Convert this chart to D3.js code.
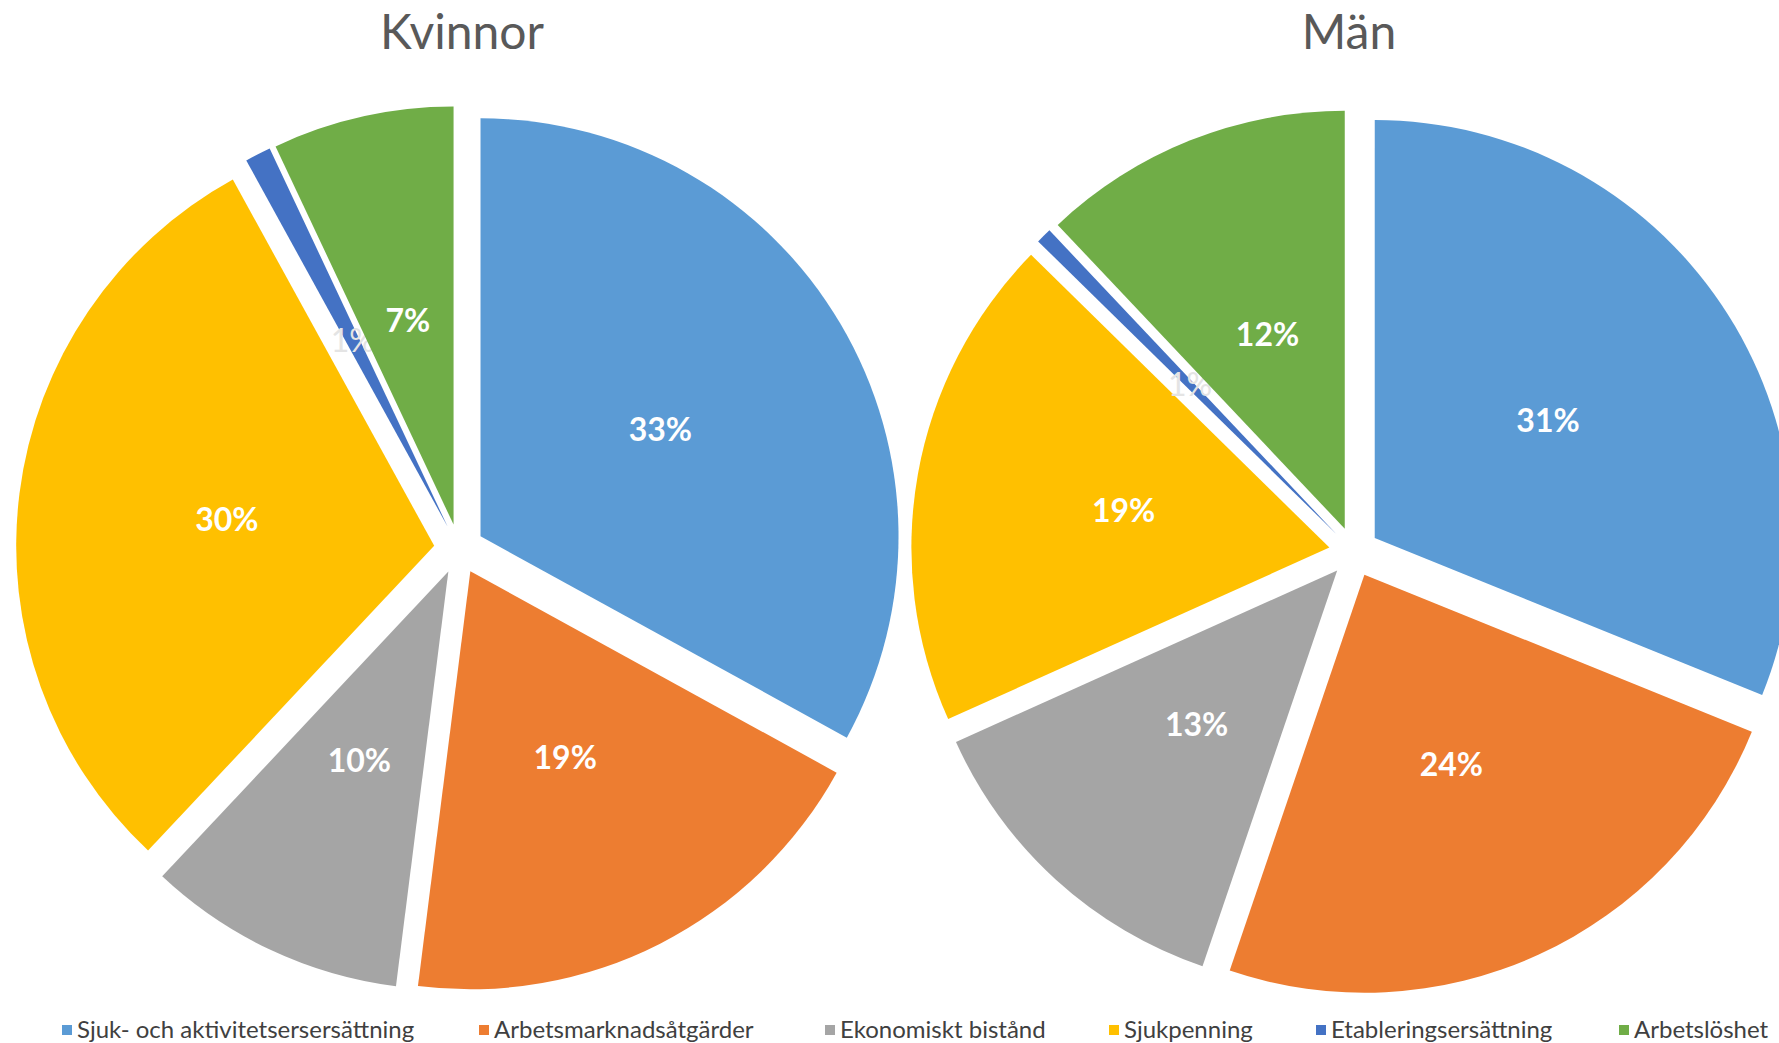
<!DOCTYPE html>
<meta charset="utf-8">
<style>
    body { margin: 0; background: #fff; }
    svg { display: block; font-family: Lato, "Open Sans", sans-serif; }
</style>
<body>
<script src="https://d3js.org/d3.v7.min.js"></script>
<script>

// Categories and values (percent)
var categories = ['Sjuk- och aktivitetsersersättning', 'Arbetsmarknadsåtgärder', 'Ekonomiskt bistånd',
    'Sjukpenning', 'Etableringsersättning', 'Arbetslöshet'];
var colors = ['#5b9bd5', '#ed7d31', '#a5a5a5', '#ffc000', '#4472c4', '#70ad47'];
var kvinnor = [33, 19, 10, 30, 1, 7];
var man = [31, 24, 13, 19, 0.6, 12];
var titles = ['Kvinnor', 'Män'];

var width = 1779, height = 1043;
var radius = 418;
var explode = 25;

var svg = d3.select('body').append('svg')
    .attr('width', width)
    .attr('height', height);

var pie = d3.pie().sort(null).value(function(d) { return d; });
var arc = d3.arc().innerRadius(0).outerRadius(radius);
var pct = d3.format('.0%');

// one pie per group
var pies = [
    {title: titles[0], values: kvinnor, cx: 459, cy: 549, tx: 462},
    {title: titles[1], values: man, cx: 1354, cy: 552, tx: 1349}
];

pies.forEach(function(p) {
    var total = d3.sum(p.values);
    var g = svg.append('g')
        .attr('transform', 'translate(' + p.cx + ',' + p.cy + ')');

    var slices = g.selectAll('g.slice')
        .data(pie(p.values))
        .enter().append('g')
        .attr('class', 'slice')
        .attr('transform', function(d) {
            var a = (d.startAngle + d.endAngle) / 2;
            return 'translate(' + (Math.sin(a) * explode) + ',' + (-Math.cos(a) * explode) + ')';
        });

    slices.append('path')
        .attr('d', arc)
        .attr('fill', function(d, i) { return colors[i]; });

    // labels at half radius from the exploded tip
    slices.append('text')
        .attr('x', function(d) { return Math.sin((d.startAngle + d.endAngle) / 2) * radius * 0.5; })
        .attr('y', function(d) { return -Math.cos((d.startAngle + d.endAngle) / 2) * radius * 0.5; })
        .attr('dy', '0.35em')
        .attr('text-anchor', 'middle')
        .style('font-size', '32px')
        .style('font-weight', function(d) { return d.value / total < 0.02 ? 'normal' : 'bold'; })
        .style('fill', function(d) { return d.value / total < 0.02 ? '#e4e4e4' : '#ffffff'; })
        .text(function(d) { return pct(d.value / total); });

    svg.append('text')
        .attr('x', p.tx)
        .attr('y', 49)
        .attr('text-anchor', 'middle')
        .style('font-size', '48px')
        .style('fill', '#595959')
        .text(p.title);
});

// legend
var legendX = [62, 479, 825, 1109, 1316, 1619];
var legend = svg.append('g').attr('class', 'legend');
var items = legend.selectAll('g')
    .data(categories)
    .enter().append('g')
    .attr('transform', function(d, i) { return 'translate(' + legendX[i] + ',1030)'; });

items.append('rect')
    .attr('x', 0)
    .attr('y', -5)
    .attr('width', 10)
    .attr('height', 10)
    .attr('fill', function(d, i) { return colors[i]; });

items.append('text')
    .attr('x', 15)
    .attr('dy', '0.35em')
    .style('font-size', '24px')
    .style('fill', '#404040')
    .text(function(d) { return d; });

</script>
</body>
